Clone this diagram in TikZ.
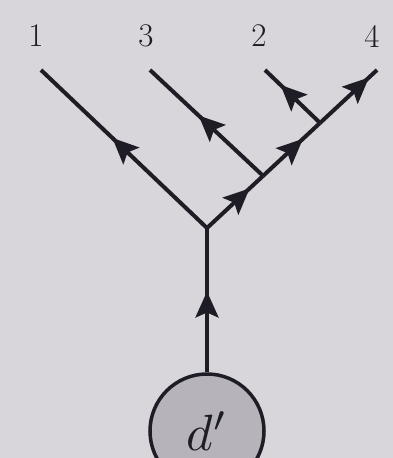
\documentclass[tikz,border=0pt]{standalone}
\usetikzlibrary{arrows.meta,decorations.markings,calc}
\definecolor{bg}{RGB}{216,214,219}
\definecolor{ink}{RGB}{30,28,36}
\definecolor{blobfill}{RGB}{182,180,186}
\tikzset{
  leg/.style={draw=ink,line width=4pt},
  midarrow/.style={postaction={decorate,decoration={markings,
     mark=at position #1 with {\arrow{Stealth[length=26pt,width=23pt,inset=5pt]}}}}},
  lbl/.style={text=ink,font=\fontsize{33}{35}\selectfont},
}
\begin{document}
\begin{tikzpicture}[x=1pt,y=-1pt]
\fill[bg] (0,0) rectangle (393,458);
\useasboundingbox (0,0) rectangle (393,458);
\node[lbl] (l1) at (36,36) {1};
\node[lbl] (l3) at (146,36) {3};
\node[lbl] (l2) at (259,36) {2};
\node[lbl] (l4) at (372,36) {4};
\coordinate (e1) at (41,70);
\coordinate (e3) at (150,70);
\coordinate (e2) at (265,70);
\coordinate (e4) at (377,70);
\coordinate (v) at (207,228);
\coordinate (j1) at ($(v)!0.33!(e4)$);
\coordinate (j2) at ($(v)!0.665!(e4)$);
\node[circle,draw=ink,line width=3.5pt,fill=blobfill,minimum size=114pt,inner sep=0pt,
      text=ink] (d) at (207,431) {\scalebox{5.1}{$d'$}};
\draw[leg,midarrow=0.57] (v) -- (e1);
\draw[leg,midarrow=0.57] (j1) -- (e3);
\draw[leg,midarrow=0.72] (j2) -- (e2);
\draw[leg,midarrow=0.76] (v) -- (j1);
\draw[leg,midarrow=0.70] (j1) -- (j2);
\draw[leg,midarrow=0.86] (j2) -- (e4);
\draw[leg,midarrow=0.56] (d) -- (v);
\end{tikzpicture}
\end{document}
